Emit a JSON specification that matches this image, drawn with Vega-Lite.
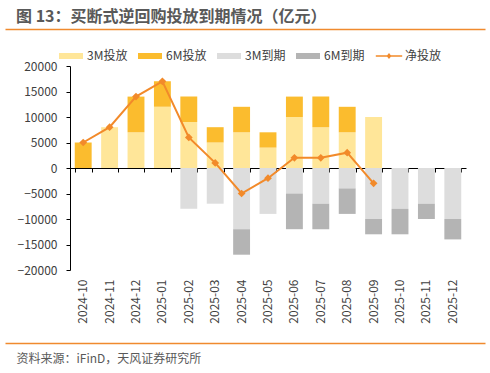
{
  "$schema": "https://vega.github.io/schema/vega-lite/v6.json",
  "width": 396,
  "height": 204,
  "autosize": {"type": "none"},
  "padding": {"left": 70, "top": 66, "right": 24, "bottom": 103},
  "background": "white",
  "config": {
    "view": {"stroke": null},
    "font": "Noto Sans CJK SC",
    "axisY": {
      "values": [-20000, -15000, -10000, -5000, 0, 5000, 10000, 15000, 20000],
      "format": "d",
      "title": null,
      "grid": false,
      "domainColor": "#000000",
      "tickColor": "#000000",
      "tickSize": 4,
      "labelPadding": 9,
      "labelFontSize": 12,
      "labelColor": "#404040",
      "labelFont": "Noto Sans CJK SC"
    }
  },
  "title": {
    "text": "图 13：买断式逆回购投放到期情况（亿元）",
    "anchor": "start",
    "frame": "group",
    "fontSize": 16,
    "fontWeight": "bold",
    "color": "#595959",
    "font": "Noto Sans CJK SC",
    "dx": -54,
    "offset": 4
  },
  "datasets": {
    "bars": [
      {"month": "2024-10", "series": "6M投放", "value": 5000},
      {"month": "2024-11", "series": "3M投放", "value": 8000},
      {"month": "2024-12", "series": "3M投放", "value": 7000},
      {"month": "2024-12", "series": "6M投放", "value": 7000},
      {"month": "2025-01", "series": "3M投放", "value": 12000},
      {"month": "2025-01", "series": "6M投放", "value": 5000},
      {"month": "2025-02", "series": "3M投放", "value": 9000},
      {"month": "2025-02", "series": "6M投放", "value": 5000},
      {"month": "2025-02", "series": "3M到期", "value": -8000},
      {"month": "2025-03", "series": "3M投放", "value": 5000},
      {"month": "2025-03", "series": "6M投放", "value": 3000},
      {"month": "2025-03", "series": "3M到期", "value": -7000},
      {"month": "2025-04", "series": "3M投放", "value": 7000},
      {"month": "2025-04", "series": "6M投放", "value": 5000},
      {"month": "2025-04", "series": "3M到期", "value": -12000},
      {"month": "2025-04", "series": "6M到期", "value": -5000},
      {"month": "2025-05", "series": "3M投放", "value": 4000},
      {"month": "2025-05", "series": "6M投放", "value": 3000},
      {"month": "2025-05", "series": "3M到期", "value": -9000},
      {"month": "2025-06", "series": "3M投放", "value": 10000},
      {"month": "2025-06", "series": "6M投放", "value": 4000},
      {"month": "2025-06", "series": "3M到期", "value": -5000},
      {"month": "2025-06", "series": "6M到期", "value": -7000},
      {"month": "2025-07", "series": "3M投放", "value": 8000},
      {"month": "2025-07", "series": "6M投放", "value": 6000},
      {"month": "2025-07", "series": "3M到期", "value": -7000},
      {"month": "2025-07", "series": "6M到期", "value": -5000},
      {"month": "2025-08", "series": "3M投放", "value": 7000},
      {"month": "2025-08", "series": "6M投放", "value": 5000},
      {"month": "2025-08", "series": "3M到期", "value": -4000},
      {"month": "2025-08", "series": "6M到期", "value": -5000},
      {"month": "2025-09", "series": "3M投放", "value": 10000},
      {"month": "2025-09", "series": "3M到期", "value": -10000},
      {"month": "2025-09", "series": "6M到期", "value": -3000},
      {"month": "2025-10", "series": "3M到期", "value": -8000},
      {"month": "2025-10", "series": "6M到期", "value": -5000},
      {"month": "2025-11", "series": "3M到期", "value": -7000},
      {"month": "2025-11", "series": "6M到期", "value": -3000},
      {"month": "2025-12", "series": "3M到期", "value": -10000},
      {"month": "2025-12", "series": "6M到期", "value": -4000}
    ],
    "net": [
      {"month": "2024-10", "net": 5000},
      {"month": "2024-11", "net": 8000},
      {"month": "2024-12", "net": 14000},
      {"month": "2025-01", "net": 17000},
      {"month": "2025-02", "net": 6000},
      {"month": "2025-03", "net": 1000},
      {"month": "2025-04", "net": -5000},
      {"month": "2025-05", "net": -2000},
      {"month": "2025-06", "net": 2000},
      {"month": "2025-07", "net": 2000},
      {"month": "2025-08", "net": 3000},
      {"month": "2025-09", "net": -3000}
    ]
  },
  "resolve": {"scale": {"x": "independent"}, "axis": {"x": "independent"}},
  "layer": [
    {
      "data": {"name": "bars"},
      "mark": {"type": "bar", "opacity": 1},
      "encoding": {
        "x": {
          "field": "month",
          "type": "ordinal",
          "sort": null,
          "scale": {
            "type": "band",
            "domain": ["2024-10","2024-11","2024-12","2025-01","2025-02","2025-03","2025-04","2025-05","2025-06","2025-07","2025-08","2025-09","2025-10","2025-11","2025-12"],
            "paddingInner": 0.36,
            "paddingOuter": 0.18
          },
          "axis": {
            "orient": "bottom",
            "title": null,
            "domain": false,
            "ticks": false,
            "tickSize": 0,
            "labelAngle": -90,
            "labelPadding": 9,
            "labelFontSize": 12,
            "labelColor": "#404040",
            "labelFont": "Noto Sans CJK SC",
            "grid": false
          }
        },
        "y": {
          "field": "value",
          "type": "quantitative",
          "stack": "zero",
          "title": null,
          "scale": {"domain": [-20000, 20000], "nice": false},
          "axis": {"orient": "left", "title": null}
        },
        "order": {"field": "series", "sort": "ascending"},
        "color": {
          "field": "series",
          "type": "nominal",
          "scale": {
            "domain": ["3M投放", "6M投放", "3M到期", "6M到期", "净投放"],
            "range": ["#FFE699", "#FBBC2E", "#DDDDDD", "#B4B4B4", "#F28A2A"]
          },
          "legend": {
            "orient": "none",
            "direction": "horizontal",
            "legendX": -11,
            "legendY": -22,
            "padding": 0,
            "title": null,
            "symbolType": "M-1,-0.25H1V0.25H-1Z",
            "symbolSize": 576,
            "symbolStrokeWidth": 0,
            "symbolOpacity": 1,
            "labelFontSize": 12,
            "labelColor": "#404040",
            "labelFont": "Noto Sans CJK SC",
            "labelOffset": 4,
            "columnPadding": 10,
            "encode": {
              "symbols": {
                "update": {
                  "shape": {"signal": "datum.value === '净投放' ? 'M-1.1,-0.06H1.1V0.06H-1.1Z M0,-0.26L0.2,0L0,0.26L-0.2,0Z' : 'M-1,-0.25H1V0.25H-1Z'"}
                }
              }
            }
          }
        }
      }
    },
    {
      "data": {"name": "net"},
      "mark": {"type": "line", "color": "#F28A2A", "strokeWidth": 2},
      "encoding": {
        "x": {
          "field": "month",
          "type": "ordinal",
          "sort": null,
          "scale": {
            "type": "band",
            "domain": ["2024-10","2024-11","2024-12","2025-01","2025-02","2025-03","2025-04","2025-05","2025-06","2025-07","2025-08","2025-09","2025-10","2025-11","2025-12"],
            "paddingInner": 0.36,
            "paddingOuter": 0.18
          },
          "axis": {
            "orient": "bottom",
            "offset": -102,
            "domain": true,
            "domainColor": "#000000",
            "domainWidth": 1,
            "labels": false,
            "ticks": true,
            "tickBand": "extent",
            "tickSize": 4,
            "tickColor": "#000000",
            "title": null,
            "grid": false
          }
        },
        "y": {"field": "net", "type": "quantitative", "title": null, "scale": {"domain": [-20000, 20000], "nice": false}, "axis": {"orient": "left", "title": null}}
      }
    },
    {
      "data": {"name": "net"},
      "mark": {"type": "point", "shape": "diamond", "filled": true, "size": 60, "color": "#F28A2A", "opacity": 1},
      "encoding": {
        "x": {
          "field": "month",
          "type": "ordinal",
          "sort": null,
          "scale": {
            "type": "band",
            "domain": ["2024-10","2024-11","2024-12","2025-01","2025-02","2025-03","2025-04","2025-05","2025-06","2025-07","2025-08","2025-09","2025-10","2025-11","2025-12"],
            "paddingInner": 0.36,
            "paddingOuter": 0.18
          },
          "axis": null
        },
        "y": {"field": "net", "type": "quantitative", "title": null, "scale": {"domain": [-20000, 20000], "nice": false}, "axis": {"orient": "left", "title": null}}
      }
    },
    {
      "data": {"name": "net"},
      "mark": {"type": "point", "opacity": 0},
      "encoding": {
        "x": {
          "field": "month",
          "type": "ordinal",
          "sort": null,
          "scale": {"type": "band", "range": [-65, 415]},
          "axis": {
            "orient": "top",
            "offset": 37,
            "domainColor": "#F08A2E",
            "domainWidth": 1.5,
            "ticks": false,
            "labels": false,
            "title": null,
            "grid": false
          }
        },
        "y": {"field": "net", "type": "quantitative", "title": null, "scale": {"domain": [-20000, 20000], "nice": false}, "axis": {"orient": "left", "title": null}}
      }
    },
    {
      "data": {"name": "net"},
      "mark": {"type": "point", "opacity": 0},
      "encoding": {
        "x": {
          "field": "month",
          "type": "ordinal",
          "sort": null,
          "scale": {"type": "band", "range": [-65, 415]},
          "axis": {
            "orient": "bottom",
            "offset": 73,
            "domainColor": "#F08A2E",
            "domainWidth": 1.5,
            "ticks": false,
            "labels": false,
            "grid": false,
            "title": "资料来源：iFinD，天风证券研究所",
            "titleAnchor": "start",
            "titleAlign": "left",
            "titleX": -54,
            "titleY": 15,
            "titleBaseline": "middle",
            "titleFontSize": 12,
            "titleFontWeight": "normal",
            "titleColor": "#595959",
            "titleFont": "Noto Sans CJK SC"
          }
        },
        "y": {"field": "net", "type": "quantitative", "title": null, "scale": {"domain": [-20000, 20000], "nice": false}, "axis": {"orient": "left", "title": null}}
      }
    }
  ]
}
